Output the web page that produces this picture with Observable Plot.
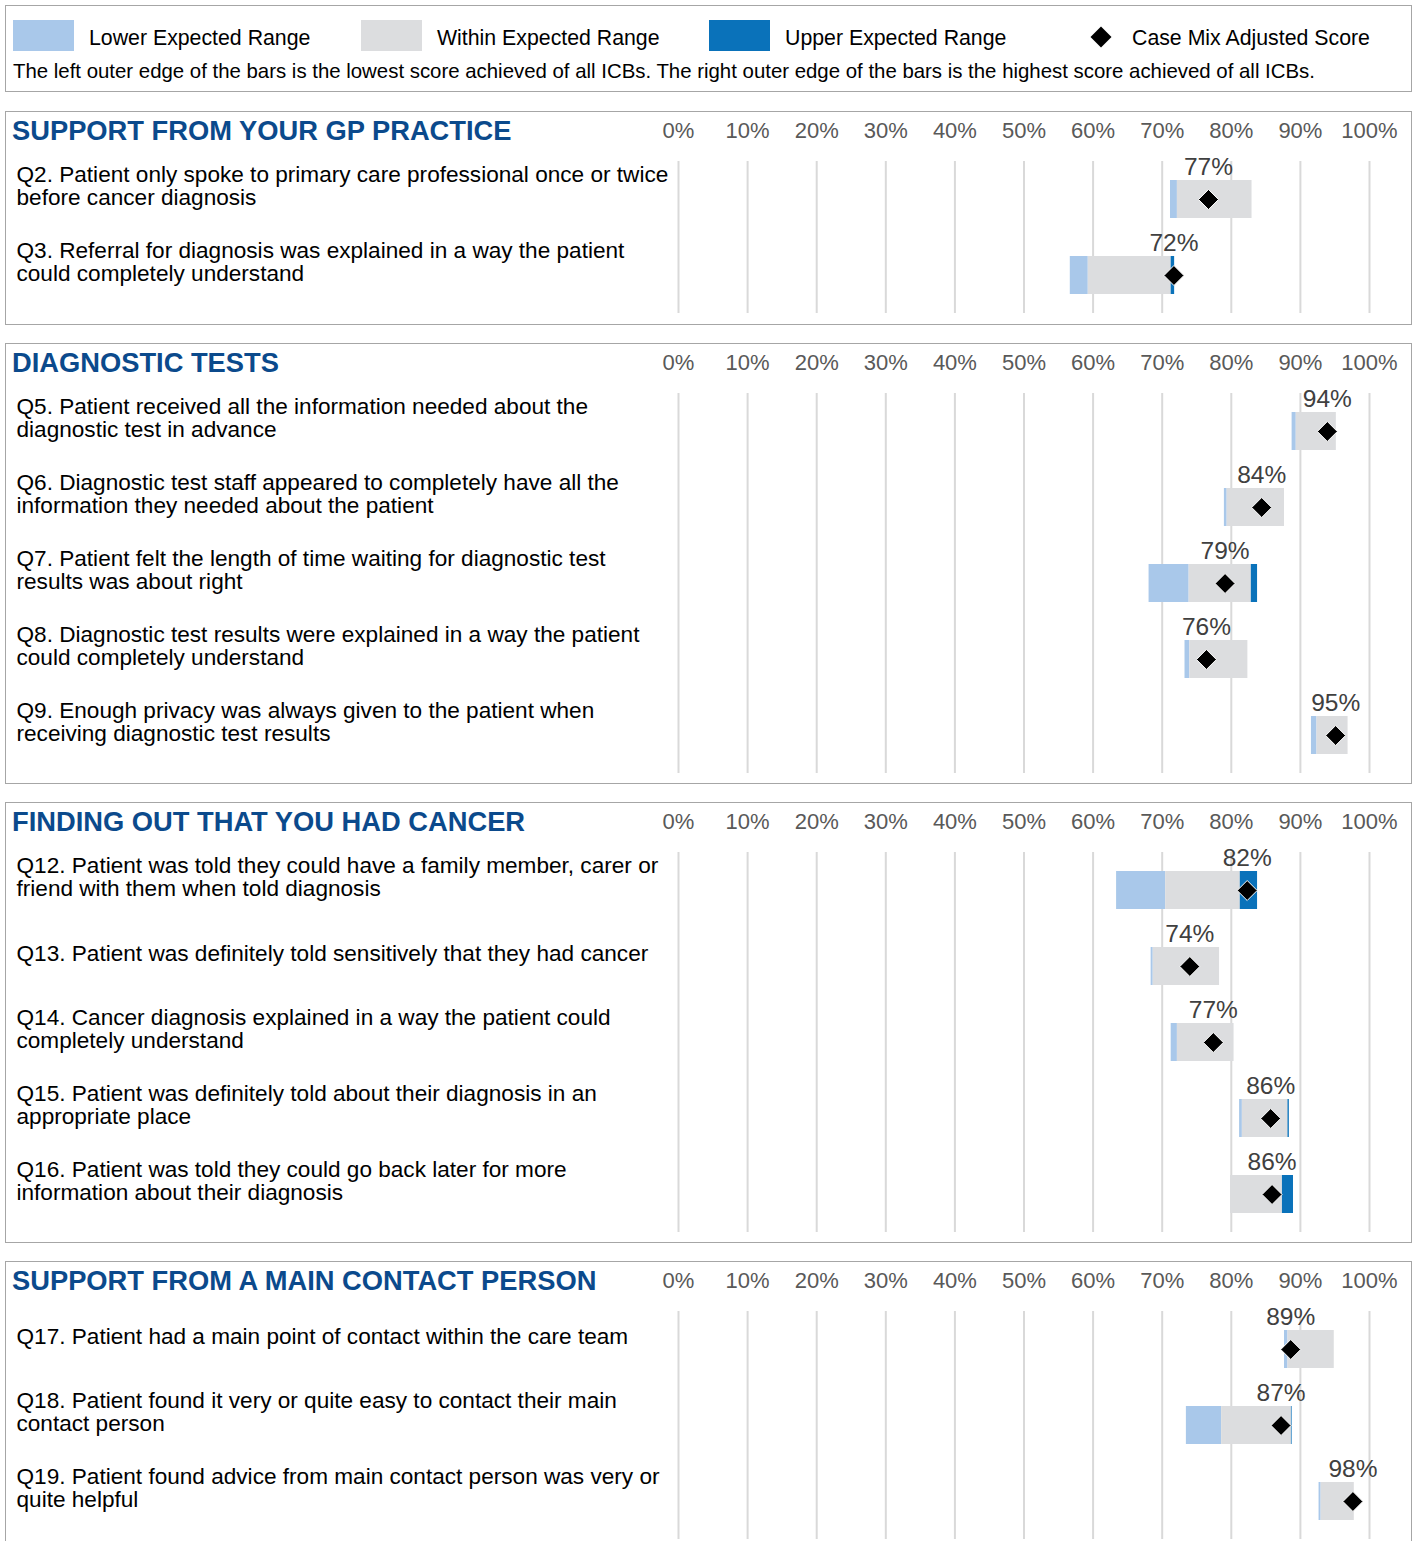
<!DOCTYPE html>
<html><head><meta charset="utf-8">
<script src="https://cdn.jsdelivr.net/npm/d3@7"></script>
<script src="https://cdn.jsdelivr.net/npm/@observablehq/plot@0.6"></script>
<style>
body{margin:0;width:1417px;height:1541px;overflow:hidden;background:#fff;font-family:"Liberation Sans",Arial,sans-serif;position:relative}
.box{position:absolute;left:5px;width:1405px;border:1px solid #a6a6a6;background:#fff}
.title{position:absolute;left:6px;top:3px;font-size:27.3px;font-weight:bold;color:#0b4a8c;line-height:32px;white-space:nowrap}
.sw{position:absolute;width:61px;height:31px}
.lt{position:absolute;font-size:21.3px;color:#000;line-height:24px;white-space:nowrap}
.panel svg{display:block}
</style></head>
<body>
<div class="box" id="legend" style="top:5px;height:85px"></div>
<div id="panels"></div>
<script>
// ---- data ----
const sectionTitles = ["SUPPORT FROM YOUR GP PRACTICE", "DIAGNOSTIC TESTS", "FINDING OUT THAT YOU HAD CANCER", "SUPPORT FROM A MAIN CONTACT PERSON"];
const questions = [
  "Q2. Patient only spoke to primary care professional once or twice\nbefore cancer diagnosis",
  "Q3. Referral for diagnosis was explained in a way the patient\ncould completely understand",
  "Q5. Patient received all the information needed about the\ndiagnostic test in advance",
  "Q6. Diagnostic test staff appeared to completely have all the\ninformation they needed about the patient",
  "Q7. Patient felt the length of time waiting for diagnostic test\nresults was about right",
  "Q8. Diagnostic test results were explained in a way the patient\ncould completely understand",
  "Q9. Enough privacy was always given to the patient when\nreceiving diagnostic test results",
  "Q12. Patient was told they could have a family member, carer or\nfriend with them when told diagnosis",
  "Q13. Patient was definitely told sensitively that they had cancer",
  "Q14. Cancer diagnosis explained in a way the patient could\ncompletely understand",
  "Q15. Patient was definitely told about their diagnosis in an\nappropriate place",
  "Q16. Patient was told they could go back later for more\ninformation about their diagnosis",
  "Q17. Patient had a main point of contact within the care team",
  "Q18. Patient found it very or quite easy to contact their main\ncontact person",
  "Q19. Patient found advice from main contact person was very or\nquite helpful"
];
const questionSection = [0,0,1,1,1,1,1,2,2,2,2,2,3,3,3];
const lowestScore  = [71.2, 56.7, 88.8, 79.0, 68.1, 73.3, 91.6, 63.4, 68.4, 71.3, 81.2, 79.9, 87.7, 73.5, 92.7];
const lowerEdge    = [72.2, 59.3, 89.4, 79.4, 73.9, 74.0, 92.4, 70.5, 68.7, 72.2, 81.6, 79.9, 88.2, 78.6, 93.0];
const upperEdge    = [83.0, 71.3, 95.2, 87.7, 82.9, 82.4, 96.9, 81.3, 78.3, 80.4, 88.2, 87.4, 94.9, 88.7, 97.8];
const highestScore = [83.0, 71.8, 95.2, 87.7, 83.8, 82.4, 96.9, 83.8, 78.3, 80.4, 88.4, 89.0, 94.9, 88.8, 97.8];
const caseMixScore = [76.7, 71.7, 93.9, 84.4, 79.1, 76.4, 95.1, 82.3, 74.0, 77.4, 85.7, 85.9, 88.6, 87.2, 97.6];
const tickValues = [0,10,20,30,40,50,60,70,80,90,100];
const legendLabels = ["Lower Expected Range", "Within Expected Range", "Upper Expected Range", "Case Mix Adjusted Score"];
const legendNote = "The left outer edge of the bars is the lowest score achieved of all ICBs. The right outer edge of the bars is the highest score achieved of all ICBs.";

const lowerColor = "#a9c8ea", withinColor = "#dcdddf", upperColor = "#0a72ba";
const font = '"Liberation Sans", Arial, sans-serif';

// ---- legend ----
const legend = document.getElementById("legend");
const swatchX = [7, 355, 703];
const textX = [83, 431, 779, 1126];
[lowerColor, withinColor, upperColor].forEach((c, i) => {
  const s = document.createElement("div");
  s.className = "sw"; s.style.left = swatchX[i] + "px"; s.style.top = "14px"; s.style.background = c;
  legend.appendChild(s);
});
const dia = document.createElementNS("http://www.w3.org/2000/svg", "svg");
dia.setAttribute("width", 24); dia.setAttribute("height", 24);
dia.style.position = "absolute"; dia.style.left = "1083px"; dia.style.top = "19px";
dia.innerHTML = '<polygon points="12,1.5 22.5,12 12,22.5 1.5,12" fill="#000"/>';
legend.appendChild(dia);
legendLabels.forEach((t, i) => {
  const d = document.createElement("div");
  d.className = "lt"; d.textContent = t; d.style.left = textX[i] + "px"; d.style.top = "20px";
  legend.appendChild(d);
});
const note = document.createElement("div");
note.className = "lt"; note.textContent = legendNote; note.style.left = "7px"; note.style.top = "53px"; note.style.fontSize = "20.4px";
legend.appendChild(note);

// ---- panels ----
const rows = questions.map((q, i) => ({
  q, section: questionSection[i], min: lowestScore[i], lo: lowerEdge[i],
  hi: upperEdge[i], max: highestScore[i], score: caseMixScore[i]
}));
const panelTops = [111, 343, 802, 1261];
const panelBottoms = [11, 10, 10, 3];
const container = document.getElementById("panels");
sectionTitles.forEach((title, k) => {
  const data = rows.filter(d => d.section === k);
  const mb = panelBottoms[k];
  const box = document.createElement("div");
  box.className = "box panel";
  box.style.top = panelTops[k] + "px";
  if (k === 3) box.style.borderBottom = "none";
  const chart = Plot.plot({
    width: 1405,
    height: 49 + 76 * data.length + mb,
    marginLeft: 672, marginRight: 42, marginTop: 49, marginBottom: mb,
    x: {domain: [0, 100]},
    y: {domain: data.map(d => d.q), paddingInner: 0.5, paddingOuter: 0.25, axis: null},
    style: {fontFamily: font, fontSize: "22px", background: "transparent", overflow: "visible"},
    marks: [
      Plot.gridX(tickValues, {stroke: "#d9d9d9", strokeOpacity: 1, strokeWidth: 2}),
      Plot.axisX(tickValues, {anchor: "top", tickSize: 0, tickPadding: 24, tickFormat: d => d + "%", fontSize: 22, color: "#595959", label: null}),
      Plot.barX(data, {y: "q", x1: "min", x2: "lo", fill: lowerColor}),
      Plot.barX(data, {y: "q", x1: "lo", x2: "hi", fill: withinColor}),
      Plot.barX(data, {y: "q", x1: "hi", x2: "max", fill: upperColor}),
      Plot.dot(data, {y: "q", x: "score", symbol: "diamond2", r: 9, fill: "#000", stroke: "#fff", strokeWidth: 1}),
      Plot.text(data, {y: "q", x: "score", text: d => Math.round(d.score) + "%", dy: -32, fontSize: 24.5, fill: "#404040"}),
      Plot.text(data, {y: "q", text: "q", frameAnchor: "left", dx: -662, textAnchor: "start", fontSize: 22.6, lineHeight: 1.02, dy: -13, fill: "#000"})
    ]
  });
  box.appendChild(chart);
  const t = document.createElement("div");
  t.className = "title"; t.textContent = title;
  box.appendChild(t);
  container.appendChild(box);
});
</script>
</body></html>
